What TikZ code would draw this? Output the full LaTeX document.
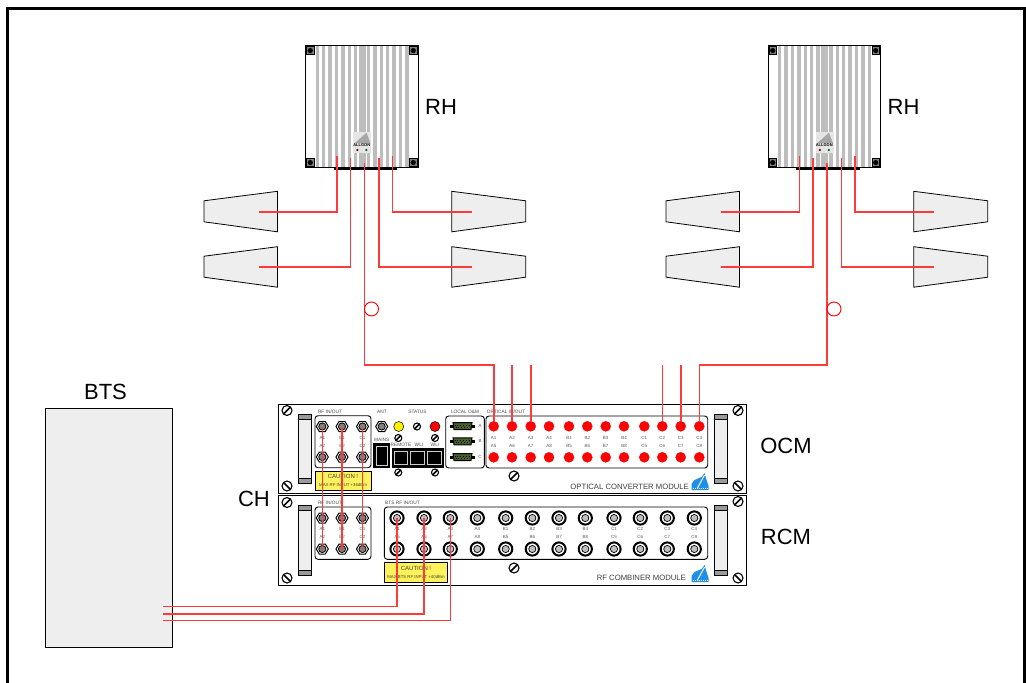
\documentclass[tikz,border=0pt]{standalone}
\usepackage{fontspec}
\setmainfont{Liberation Sans}

\definecolor{panelgrey}{HTML}{EEEEEE}
\definecolor{fingrey}{HTML}{BDBDBD}
\definecolor{plategrey}{HTML}{9A9A9A}
\definecolor{tagyellow}{HTML}{FFF25A}
\definecolor{logoblue}{HTML}{1E90E8}
\definecolor{subdgreen}{HTML}{46602A}
\definecolor{feedred}{HTML}{FF3A3A}

\tikzset{
  biglabel/.style={inner sep=0pt,font=\fontsize{22}{22}\selectfont},
  tinylabel/.style={inner sep=0pt,text=black!65,font=\fontsize{4.5}{5}\selectfont},
  titlelabel/.style={inner sep=0pt,text=black!70,font=\fontsize{4.8}{5}\selectfont},
  cautionlabel/.style={inner sep=0pt,text=black!75,font=\fontsize{6}{6}\selectfont},
  maxlabel/.style={inner sep=0pt,text=black!75,font=\fontsize{4.3}{5}\selectfont},
  modulelabel/.style={inner sep=0pt,anchor=east,text=black!75,font=\fontsize{7.7}{8}\selectfont},
  rack/.style={draw=black,line width=0.9,fill=white},
  group/.style={draw=black,line width=0.9,rounded corners=3},
  feeder/.style={draw=feedred,line width=1.6},
  optport/.style={circle,fill=red,draw=red,inner sep=0pt,minimum size=10},
  statuslamp/.style={circle,draw=black,line width=0.5,inner sep=0pt,minimum size=10},
  looptag/.style={circle,draw=red,line width=0.9,inner sep=0pt,minimum size=14},
  % pics, all drawn from their own origin
  screwhead/.pic={
    \draw[fill=white,line width=1.1] (0,0) circle (#1);
    \draw[line width=1.6] (-#1*0.7,#1*0.7) -- (#1*0.7,-#1*0.7);
  },
  handle/.pic={
    \draw[fill=panelgrey,line width=0.7] (0,0) rectangle (13,#1);
    \draw[fill=plategrey,line width=0.7] (0,0) rectangle (13,5);
    \draw[fill=plategrey,line width=0.7] (13,#1) rectangle (0,#1-5);
  },
  hexport/.pic={
    \draw[fill=white,line width=1] (-6,0) -- (-3,-5) -- (3,-5) -- (6,0) -- (3,5) -- (-3,5) -- cycle;
    \draw[fill=black!50,line width=0.8] (0,0) circle (3.6);
  },
  bncport/.pic={
    \draw[fill=white,line width=2] (0,0) circle (6.6);
    \draw[fill=black!25,line width=0.7] (0,0) circle (3.6);
  },
  subd/.pic={
    \fill (-12.5,-1.5) rectangle (-9.5,1.5);
    \fill (9.5,-1.5) rectangle (12.5,1.5);
    \draw[fill=subdgreen,line width=1] (-9.5,-3.5) -- (9.5,-3.5) -- (8.5,3.5) -- (-8.5,3.5) -- cycle;
    \draw[line width=0.8,dotted] (-8,-1) -- (8,-1);
    \draw[line width=0.8,dotted] (-7,1.2) -- (7,1.2);
  },
  logo/.pic={
    \fill[logoblue] (0,0) -- (0,-6) -- (3,-10) -- (10,-13) -- (13,-17) -- (15,-10) -- (17,-4) -- (17,0) -- cycle;
    \draw[white,line width=1] (6,-2) -- (13,-15);
    \draw[white,line width=0.6,dash pattern=on 1pt off 1pt] (1,-1.5) -- (16,-1.5);
  },
  antennaleft/.pic={
    \draw[fill=panelgrey,line width=0.8] (0,9.5) -- (73.5,0) -- (73.5,40.5) -- (0,30.5) -- cycle;
    \coordinate (-feed) at (54.5,20.5);
  },
  antennaright/.pic={
    \draw[fill=panelgrey,line width=0.8] (74,9.5) -- (0,0) -- (0,40.5) -- (74,30.5) -- cycle;
    \coordinate (-feed) at (20.5,20.5);
  },
  radiohead/.pic={
    \draw[fill=white,line width=0.9] (0,0) rectangle (112.5,121.5);
    % cooling fins
    \foreach \fin in {10,16.4,...,105}{
      \fill[fingrey] (\fin,0) rectangle +(3.4,121.5);
    }
    \fill[fingrey] (53,0) rectangle (60,121.5);
    \foreach \sx/\sy in {1/1,104/1,1/113,104/113}{
      \draw[fill=black!50,line width=0.9] (\sx,\sy) rectangle +(7.5,7.5);
      \fill (\sx+3.75,\sy+3.75) circle (2.6);
    }
    % badge
    \fill[black!10] (47.5,86) rectangle (65.5,107);
    \fill[black!35] (49,97.5) -- (61,87) -- (65,97.5) -- cycle;
    \node[inner sep=0pt,font=\fontsize{4}{4}\bfseries\selectfont] (-badge) at (56.2,99.5) {ALLGON};
    \fill[black!60!red] (51.8,104.2) circle (1.2);
    \fill[black!60!green] (60.8,104.2) circle (1.2);
    % port strip
    \fill (28,121) rectangle (91.5,124.3);
    \coordinate (-portA) at (31.5,110);
    \coordinate (-portB) at (45,112);
    \coordinate (-portC) at (59,117);
    \coordinate (-portD) at (73.5,112);
    \coordinate (-portE) at (87,110);
  }
}

\begin{document}
\begin{tikzpicture}[x=1pt,y=-1pt]
\useasboundingbox (0,0) rectangle (1026,683);

% Sheet frame, open at the bottom
\draw[line width=3] (7.5,683) -- (7.5,8.5) -- (1024.5,8.5) -- (1024.5,683);

% Radio heads
\pic (rhA) at (305.5,45.8) {radiohead};
\pic (rhB) at (768,45.8) {radiohead};
\node[biglabel] (rhAlabel) at (441,107) {RH};
\node[biglabel] (rhBlabel) at (903.5,107) {RH};

% Antennas
\pic (antA) at (204,191.3) {antennaleft};
\pic (antB) at (204,246.7) {antennaleft};
\pic (antC) at (451.7,191.3) {antennaright};
\pic (antD) at (451.7,246.7) {antennaright};
\pic (antE) at (666,191.3) {antennaleft};
\pic (antF) at (666,246.7) {antennaleft};
\pic (antG) at (913.7,191.3) {antennaright};
\pic (antH) at (913.7,246.7) {antennaright};

% BTS
\node[draw=black,line width=0.9,fill=panelgrey,minimum width=126.5,minimum height=239,inner sep=0pt] (bts) at (108.7,528.3) {};
\node[biglabel] (btslabel) at (105.5,392) {BTS};

% Optical converter module
\draw[rack] (278.5,404) rectangle (746,493.3);
\pic at (298.3,414) {handle=69};
\pic at (714.3,414) {handle=69};
\pic at (287,410.5) {screwhead=5};
\pic[xscale=-1] at (287,486) {screwhead=5};
\pic at (738,410.5) {screwhead=5};
\pic[xscale=-1] at (738,486) {screwhead=5};
\pic at (514,476) {screwhead=5};

\draw[group] (315,415.7) rectangle (371,467.7);
\node[titlelabel] (ocmrftitle) at (330,412) {RF IN/OUT};
\foreach \col/\px in {A/322.3,B/342,C/362.5}{
  \pic at (\px,426.5) {hexport};
  \pic at (\px,457) {hexport};
  \coordinate (ocmrf\col) at (\px,427);
  \node[tinylabel] (ocmrf\col1) at (\px,438) {\col1};
  \node[tinylabel] (ocmrf\col2) at (\px,445.5) {\col2};
}
\draw[line width=0.7,fill=tagyellow] (315,471) rectangle (371,490.5);
\node[cautionlabel] (ocmcaution) at (343,476) {CAUTION !};
\node[maxlabel] (ocmmaxrf) at (343,484.5) {MAX RF INPUT +36dBm};

% Antenna port and status lamps
\node[titlelabel] (antlabel) at (382,412) {ANT};
\pic at (381.7,426.5) {hexport};
\node[titlelabel] (statuslabel) at (417.5,412) {STATUS};
\node[statuslamp,fill=yellow] (lampyellow) at (398.7,426.5) {};
\node[statuslamp,fill=red] (lampred) at (435,426.5) {};
\pic at (417,426.5) {screwhead=3.5};
\pic at (398.3,438) {screwhead=3.5};
\pic at (435,438) {screwhead=3.5};
\pic at (398.3,472.5) {screwhead=3.5};
\pic at (435,472.5) {screwhead=3.5};

% Mains and remote sockets
\node[titlelabel] (mainslabel) at (381.7,440) {MAINS};
\fill (373,443) rectangle (390,467.7);
\draw[white!80!black,line width=0.7] (376,446) rectangle (387,465);
\fill (391.7,448) rectangle (444,468);
\node[titlelabel] (remotelabel) at (401,445) {REMOTE};
\node[titlelabel] (wlilabelA) at (419,445) {WLI};
\node[titlelabel] (wlilabelB) at (435,445) {WLI};
\foreach \sx in {394,410.5,427.5}{
  \draw[white!80!black,line width=0.7] (\sx,451) rectangle +(13.5,13.5);
}

% Local O&M
\draw[group] (445.7,416) rectangle (484.3,468);
\node[titlelabel] (omtitle) at (465,412) {LOCAL O\&M};
\foreach \lab/\py in {A/426,B/441.3,C/457}{
  \pic at (462.5,\py) {subd};
  \node[tinylabel] (om\lab) at (480,\py) {\lab};
}

% Optical ports
\draw[group] (486,416) rectangle (707.7,468);
\node[titlelabel] (opttitle) at (506,412) {OPTICAL IN/OUT};
\foreach \idx/\px/\labtop/\labbot in {1/493.7/A1/A5,2/512/A2/A6,3/530.7/A3/A7,4/549/A4/A8,5/569/B1/B5,6/587.3/B2/B6,7/605.7/B3/B7,8/624/B4/B8,9/644.3/C1/C5,10/662.3/C2/C6,11/680.7/C3/C7,12/699.3/C4/C8}{
  \node[optport] (opt\idx) at (\px,426.3) {};
  \node[optport] (optlow\idx) at (\px,457.3) {};
  \node[tinylabel] (optlab\labtop) at (\px,437.5) {\labtop};
  \node[tinylabel] (optlab\labbot) at (\px,446) {\labbot};
}
\node[modulelabel] (ocmname) at (689,487) {OPTICAL CONVERTER MODULE};
\pic at (691.5,490) {logo};

% RF combiner module
\draw[rack] (278.5,495.7) rectangle (746,585.7);
\pic at (298.3,505.7) {handle=69.5};
\pic at (714.3,505.7) {handle=69.5};
\pic at (287,502.5) {screwhead=5};
\pic[xscale=-1] at (287,578) {screwhead=5};
\pic at (738,501.5) {screwhead=5};
\pic[xscale=-1] at (738,578) {screwhead=5};
\pic at (514,568) {screwhead=5};

\draw[group] (315,507) rectangle (371,559.3);
\node[titlelabel] (rcmrftitle) at (330,503) {RF IN/OUT};
\foreach \col/\px in {A/322.3,B/342,C/362.5}{
  \pic at (\px,518) {hexport};
  \pic at (\px,549) {hexport};
  \coordinate (rcmrf\col) at (\px,549.5);
  \node[tinylabel] (rcmrf\col1) at (\px,529) {\col1};
  \node[tinylabel] (rcmrf\col2) at (\px,537) {\col2};
}

\draw[group] (384.3,507) rectangle (707.7,559.3);
\node[titlelabel] (btsrftitle) at (402.5,503) {BTS RF IN/OUT};
\foreach \idx/\px/\labtop/\labbot in {1/397/A1/A5,2/424/A2/A6,3/450.3/A3/A7,4/477.3/A4/A8,5/505.7/B1/B5,6/532.3/B2/B6,7/559/B3/B7,8/585.3/B4/B8,9/614/C1/C5,10/640.3/C2/C6,11/667.3/C3/C7,12/694.3/C4/C8}{
  \pic at (\px,518) {bncport};
  \pic at (\px,549) {bncport};
  \coordinate (btsrf\idx) at (\px,518);
  \node[tinylabel] (btsrflab\labtop) at (\px,529) {\labtop};
  \node[tinylabel] (btsrflab\labbot) at (\px,537) {\labbot};
}
\draw[line width=0.7,fill=tagyellow] (384.3,562.7) rectangle (447.3,582.3);
\node[cautionlabel] (rcmcaution) at (416,568) {CAUTION !};
\node[maxlabel] (rcmmaxrf) at (416,576.5) {MAX BTS RF INPUT +40dBm};
\node[modulelabel] (rcmname) at (686,578) {RF COMBINER MODULE};
\pic at (691.5,582) {logo};

% Labels beside the racks
\node[biglabel] (ocmlabel) at (786,445.5) {OCM};
\node[biglabel] (rcmlabel) at (786,537) {RCM};
\node[biglabel] (chlabel) at (254,499) {CH};

% Antenna feeders
\draw[feeder] (rhA-portA) |- (antA-feed);
\draw[feeder] (rhA-portB) |- (antB-feed);
\draw[feeder] (rhA-portD) |- (antD-feed);
\draw[feeder] (rhA-portE) |- (antC-feed);
\draw[feeder] (rhB-portA) |- (antE-feed);
\draw[feeder] (rhB-portB) |- (antF-feed);
\draw[feeder] (rhB-portD) |- (antH-feed);
\draw[feeder] (rhB-portE) |- (antG-feed);

% Fibres down to the converter
\coordinate (fibreA) at (364.5,365);
\coordinate (fibreB) at (827,365);
\draw[feeder] (rhA-portC) -- (fibreA) -| (opt1);
\draw[feeder] (rhB-portC) -- (fibreB) -| (opt12);
\node[looptag] (loopA) at (371.5,309) {};
\node[looptag] (loopB) at (834,309) {};
\foreach \idx/\px in {2/512,3/530.7,10/662.3,11/680.7}{
  \coordinate (stub\idx) at (\px,365);
  \draw[feeder] (stub\idx) -- (opt\idx);
}

% Links between the two modules and from the BTS
\draw[feeder] (ocmrfA) -- (rcmrfA);
\draw[feeder] (ocmrfB) -- (rcmrfB);
\draw[feeder] (ocmrfC) -- (rcmrfC);
\coordinate (btsfeedA) at (163,606.5);
\coordinate (btsfeedB) at (163,613.7);
\coordinate (btsfeedC) at (163,620.3);
\draw[feeder] (btsfeedC) -| (btsrf3);
\draw[feeder] (btsfeedB) -| (btsrf2);
\draw[feeder] (btsfeedA) -| (btsrf1);
\end{tikzpicture}
\end{document}
